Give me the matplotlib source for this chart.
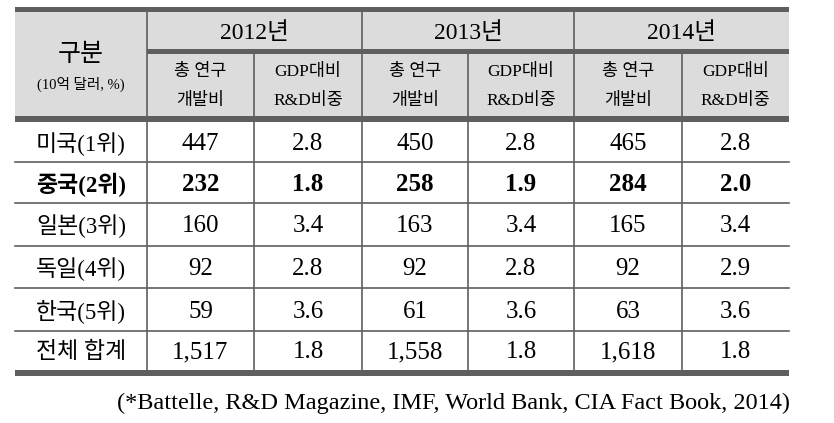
import matplotlib.pyplot as plt
from matplotlib.patches import Rectangle

# table data
countries = ["미국(1위)", "중국(2위)", "일본(3위)", "독일(4위)", "한국(5위)", "전체 합계"]
years = ["2012년", "2013년", "2014년"]
sub_headers = [("총 연구", "개발비"), ("GDP대비", "R&D비중")]
spend = {
    "2012": [447, 232, 160, 92, 59, 1517],
    "2013": [450, 258, 163, 92, 61, 1558],
    "2014": [465, 284, 165, 92, 63, 1618],
}
ratio = {
    "2012": [2.8, 1.8, 3.4, 2.8, 3.6, 1.8],
    "2013": [2.8, 1.9, 3.4, 2.8, 3.6, 1.8],
    "2014": [2.8, 2.0, 3.4, 2.9, 3.6, 1.8],
}
bold_row = 1  # China row is bold
source = "(*Battelle, R&D Magazine, IMF, World Bank, CIA Fact Book, 2014)"

# layout (pixels)
col_edges = [15, 147, 254, 362, 468, 574, 682, 789]
row_edges = [122, 162, 203, 246, 288, 331, 370]
LINE = "#5f5f5f"
HEAD = "#dcdcdc"
MIX = ["Liberation Serif", "Noto Sans CJK KR"]

fig = plt.figure(figsize=(8.34, 4.23), dpi=100)
ax = fig.add_axes([0, 0, 1, 1])
ax.set_xlim(0, 834)
ax.set_ylim(423, 0)
ax.axis("off")

left, right = col_edges[0], col_edges[-1]

# header background
ax.add_patch(Rectangle((left, 12), right - left, 104, color=HEAD, lw=0))
# thick rules
ax.add_patch(Rectangle((left, 7), right - left, 5, color=LINE, lw=0))
ax.add_patch(Rectangle((col_edges[1], 49), right - col_edges[1], 5, color=LINE, lw=0))
ax.add_patch(Rectangle((left, 116), right - left, 6, color=LINE, lw=0))
ax.add_patch(Rectangle((left, 370), right - left, 6, color=LINE, lw=0))

# thin rules
for y in row_edges[1:-1]:
    ax.plot([left, right], [y, y], color=LINE, lw=1.2)
for i, x in enumerate(col_edges[1:-1], start=1):
    top = 12 if i in (1, 3, 5) else 54
    ax.plot([x, x], [top, 370], color=LINE, lw=1.2)

# header text
ax.text(81, 54, "구분", ha="center", va="center", fontsize=18, family="Noto Sans CJK KR")
ax.text(81, 84, "(10억 달러, %)", ha="center", va="center", fontsize=10.5, family=MIX)
for k, yr in enumerate(years):
    cx = (col_edges[1 + 2 * k] + col_edges[3 + 2 * k]) / 2
    ax.text(cx, 33, yr, ha="center", va="center", fontsize=17, family=MIX)
    for j, (l1, l2) in enumerate(sub_headers):
        c = 1 + 2 * k + j
        sx = (col_edges[c] + col_edges[c + 1]) / 2
        ax.text(sx, 72, l1, ha="center", va="center", fontsize=12.5, family=MIX)
        ax.text(sx, 101, l2, ha="center", va="center", fontsize=12.5, family=MIX)

# body text
keys = ["2012", "2013", "2014"]
for r, name in enumerate(countries):
    cy = (row_edges[r] + row_edges[r + 1]) / 2 + 2
    w = "bold" if r == bold_row else "normal"
    ax.text(81, cy, name, ha="center", va="center", fontsize=16.5, family=MIX, weight=w)
    for k, key in enumerate(keys):
        c = 1 + 2 * k
        vals = [f"{spend[key][r]:,}", f"{ratio[key][r]:.1f}"]
        for j, v in enumerate(vals):
            sx = (col_edges[c + j] + col_edges[c + j + 1]) / 2
            ax.text(sx, cy, v, ha="center", va="center", fontsize=18,
                    family=MIX, weight=w)

ax.text(790, 403, source, ha="right", va="center", fontsize=17.5, family=MIX)

fig.savefig("out.png", dpi=100)
